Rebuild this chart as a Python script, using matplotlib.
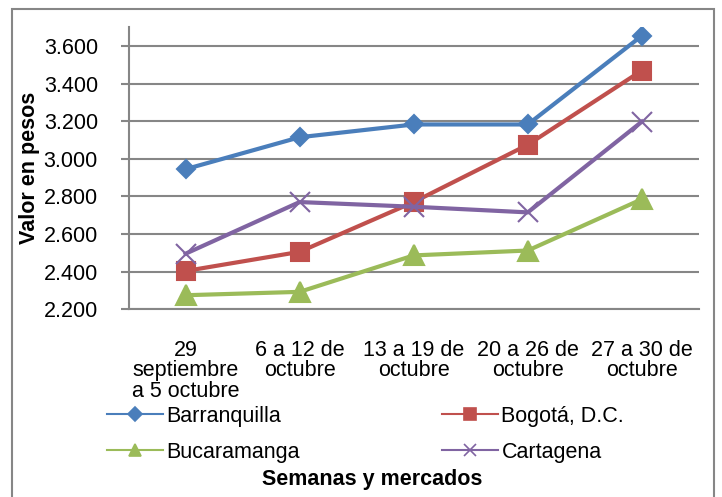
import matplotlib.pyplot as plt
from matplotlib.patches import Rectangle
from matplotlib.lines import Line2D

plt.rcParams['font.family'] = ['Liberation Sans', 'DejaVu Sans']

semanas = ['29\nseptiembre\na 5 octubre', '6 a 12 de\noctubre', '13 a 19 de\noctubre',
           '20 a 26 de\noctubre', '27 a 30 de\noctubre']
barranquilla = [2945, 3115, 3183, 3183, 3655]
bogota = [2403, 2505, 2770, 3075, 3470]
bucaramanga = [2274, 2292, 2486, 2512, 2785]
cartagena = [2495, 2770, 2745, 2715, 3198]
yticks = [2200, 2400, 2600, 2800, 3000, 3200, 3400, 3600]
ytick_labels = ['2.200', '2.400', '2.600', '2.800', '3.000', '3.200', '3.400', '3.600']

series = [
    ('Barranquilla', barranquilla, '#4A7EBB', 'D', 9, 7),
    ('Bogotá, D.C.', bogota, '#C0504D', 's', 13, 9),
    ('Bucaramanga', bucaramanga, '#9BBB59', '^', 14, 9),
    ('Cartagena', cartagena, '#8064A2', 'x', 14, 9),
]

fig = plt.figure(figsize=(7.22, 4.97), dpi=100)
ax = fig.add_axes([0.178, 0.378, 0.790, 0.567])

x = range(len(semanas))
handles = []
for name, vals, col, mk, ms, lms in series:
    ax.plot(x, vals, color=col, lw=3, marker=mk, ms=ms, mew=1.5)
    handles.append(Line2D([], [], color=col, lw=1.5, marker=mk, ms=lms, mew=1.2, label=name))

ax.set_xlim(-0.5, 4.5)
ax.set_ylim(2200, 3700)
ax.set_yticks(yticks)
ax.set_yticklabels(ytick_labels)
ax.set_xticks(list(x))
ax.set_xticklabels(semanas, linespacing=0.98)
ax.tick_params(axis='y', labelsize=15.5, length=6, width=1.5, color='#868686', pad=16)
ax.tick_params(axis='x', labelsize=15.5, length=0, pad=22)
ax.grid(axis='y', color='#868686', lw=1.5)
ax.set_axisbelow(True)
for s in ['top', 'right']:
    ax.spines[s].set_visible(False)
for s in ['left', 'bottom']:
    ax.spines[s].set_color('#868686')
    ax.spines[s].set_linewidth(1.5)

ax.set_ylabel('Valor en pesos', fontsize=15.5, fontweight='bold', labelpad=3)

# column-major fill: order so rows read Barranquilla/Bogota, Bucaramanga/Cartagena
leg_order = [handles[0], handles[2], handles[1], handles[3]]
fig.legend(handles=leg_order, loc='lower left', bbox_to_anchor=(0.122, 0.03), ncol=2,
           fontsize=15.5, frameon=False, handlelength=2.6, handletextpad=0.15,
           columnspacing=6.6, labelspacing=0.7)
fig.text(0.515, 0.036, 'Semanas y mercados', ha='center', va='center',
         fontsize=15.5, fontweight='bold')

fig.patches.append(Rectangle((12 / 722, -0.01), 702 / 722, 1 - 9 / 497 + 0.01,
                             transform=fig.transFigure, fill=False,
                             edgecolor='#868686', lw=1.5))

fig.savefig('out.png', dpi=100)
